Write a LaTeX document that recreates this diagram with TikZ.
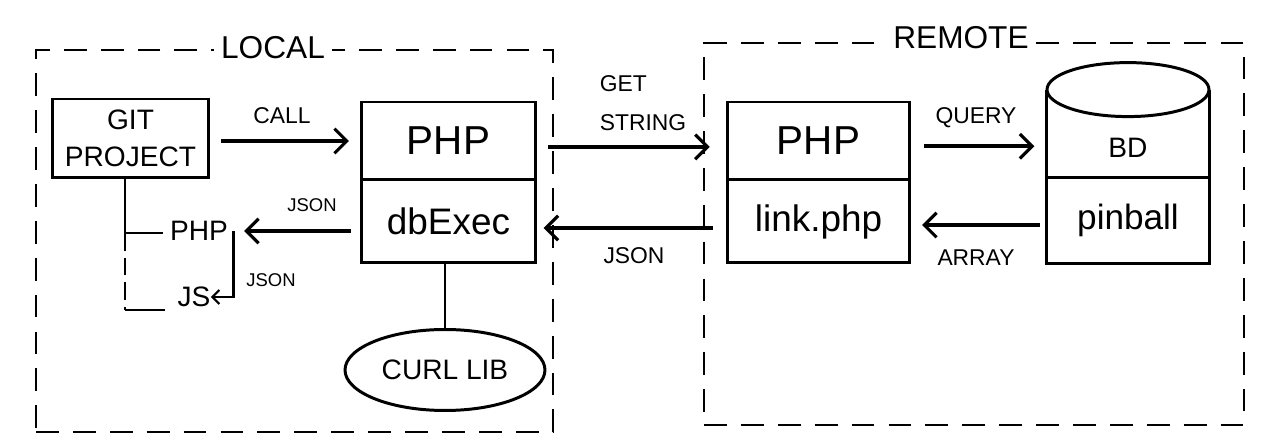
\documentclass[tikz,border=0pt]{standalone}
\usepackage{fontspec}
\setmainfont{Liberation Sans}
\usetikzlibrary{arrows.meta,shapes.geometric}
\newcommand{\fs}[1]{\fontsize{#1}{#1}\selectfont}
\tikzset{
  frame/.style={draw, line width=1.3pt, dash pattern=on 13pt off 8pt},
  framelabel/.style={fill=white, inner sep=4pt, font=\fs{18}},
  box/.style={draw, line width=1.7pt, inner sep=0pt},
  plain/.style={inner sep=0pt},
  arr/.style={line width=2.3pt, -{Straight Barb[length=7pt,width=14pt,line width=1.8pt]}},
  arrsmall/.style={line width=1.5pt, -{Straight Barb[length=4pt,width=8pt,line width=1.3pt]}},
  conn/.style={line width=1.6pt},
  lab/.style={inner sep=0pt, font=\fs{13}},
  smalllab/.style={inner sep=0pt, font=\fs{10.5}}
}
\begin{document}
\begin{tikzpicture}[x=0.02cm,y=-0.02cm]
\useasboundingbox (0,0) rectangle (1262,445);

% frames
\node[frame, minimum width=10.34cm, minimum height=7.64cm] (localbox) at (294.5,241) {};
\node[framelabel] (locallab) at (273,48) {LOCAL};
\node[frame, minimum width=10.8cm, minimum height=7.64cm] (remotebox) at (974,234) {};
\node[framelabel] (remotelab) at (961,38) {REMOTE};

% local side
\node[box, minimum width=3.14cm, minimum height=1.58cm, align=center, font=\fontsize{16}{21}\selectfont] (git) at (130.5,138.5) {GIT\\PROJECT};
\node[box, minimum width=3.5cm, minimum height=1.56cm, font=\fs{23}] (phpLtop) at (448.5,141) {PHP};
\node[box, minimum width=3.5cm, minimum height=1.66cm, font=\fs{21}] (phpLbot) at (448.5,221.5) {dbExec};
\node[box, ellipse, minimum width=4cm, minimum height=1.62cm, font=\fs{16}] (curl) at (445,370) {CURL LIB};

\node[plain, font=\fs{16}] (phpsub) at (199,231) {PHP};
\node[plain, font=\fs{16}] (js) at (194,297) {JS};

\coordinate (br) at (125,233);
\coordinate (jscorner) at (125,310);

\draw[conn, shorten >=4pt] (git.south -| br) -- (br) -- (br -| phpsub.west);
\draw[conn, dash pattern=on 10pt off 4pt] (br) -- (jscorner);
\draw[conn, shorten >=7pt] (jscorner) -- (jscorner -| js.west);
\draw[arrsmall] ([xshift=3pt]phpsub.east) |- (js.east);
\node[smalllab] (json3) at (271,280) {JSON};

\draw[arr, shorten <=6pt, shorten >=6pt] (git.east |- phpLtop) -- (phpLtop.west);
\node[lab] (call) at (282,116) {CALL};

\draw[arr, shorten <=5pt, shorten >=9pt] (phpLbot.west |- phpsub) -- (phpsub.east);
\node[smalllab] (json1) at (312,205) {JSON};

\draw[conn] (phpLbot.south -| curl.north) -- (curl.north);

% remote side
\node[box, minimum width=3.66cm, minimum height=1.56cm, font=\fs{23}] (phpRtop) at (818.5,141) {PHP};
\node[box, minimum width=3.66cm, minimum height=1.66cm, font=\fs{21}] (phpRbot) at (818.5,221.5) {link.php};

\node[plain, minimum width=3.24cm, minimum height=1.22cm, font=\fs{16}] (dbtop) at (1128,147.5) {BD};
\node[plain, minimum width=3.24cm, minimum height=1.7cm, font=\fs{20}] (dbbot) at (1128,220.5) {pinball};
\draw[box] ([yshift=15.4pt]dbtop.north west) -- (dbbot.south west) -- (dbbot.south east) -- ([yshift=15.4pt]dbtop.north east);
\draw[box] (dbbot.north west) -- (dbbot.north east);
\draw[box] ([yshift=15.4pt]dbtop.north) ellipse [x radius=1.62cm, y radius=0.54cm];

% cross arrows
\draw[arr, shorten <=6pt, shorten >=9pt] ([yshift=-3.4pt]phpLtop.east) -- ([yshift=-3.4pt]phpRtop.west);
\node[lab, align=left, font=\fontsize{13}{22}\selectfont] (getstr) at (643,103) {GET\\STRING};

\draw[arr, shorten <=7pt, shorten >=3.5pt] ([yshift=-3.7pt]phpRbot.west) -- ([yshift=-3.7pt]phpLbot.east);
\node[lab] (json2) at (634,256) {JSON};

\draw[arr, shorten <=7pt, shorten >=7pt] ([yshift=-3pt]phpRtop.east) -- ([yshift=-3pt]phpRtop.east -| dbtop.west);
\node[lab] (query) at (976,118) {QUERY};

\draw[arr, shorten <=4pt, shorten >=6pt] ([yshift=-2pt]phpRbot.east -| dbbot.west) -- ([yshift=-2pt]phpRbot.east);
\node[lab] (array) at (976,258) {ARRAY};
\end{tikzpicture}
\end{document}
